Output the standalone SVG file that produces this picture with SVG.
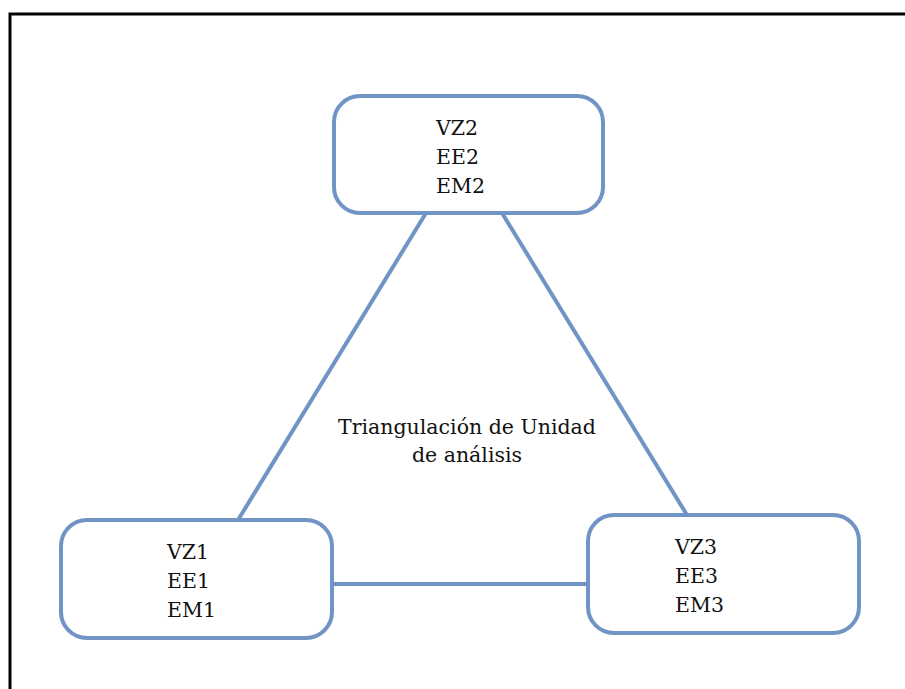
<svg xmlns="http://www.w3.org/2000/svg" width="905" height="689" viewBox="0 0 905 689">
<style>
.box{fill:#fff;stroke:#7094c4;stroke-width:4}
.con{stroke:#7094c4;stroke-width:4;fill:none}
.t{font-family:"DejaVu Serif","Liberation Serif",serif;font-size:20.5px;fill:#111}
</style>
<rect width="905" height="689" fill="#fff"/>
<path d="M10,689 V14 H905" fill="none" stroke="#000" stroke-width="3"/>
<g id="connectors">
<line class="con" x1="426" y1="213" x2="238" y2="520"/>
<line class="con" x1="502" y1="213" x2="687" y2="515"/>
<line class="con" x1="332" y1="584" x2="588" y2="584"/>
</g>
<g id="node-top">
<rect class="box" x="334" y="96" width="269" height="117" rx="26"/>
<text class="t" x="436" y="135">VZ2</text>
<text class="t" x="436" y="164">EE2</text>
<text class="t" x="436" y="193">EM2</text>
</g>
<g id="node-left">
<rect class="box" x="61" y="520" width="271" height="118" rx="26"/>
<text class="t" x="167" y="559">VZ1</text>
<text class="t" x="167" y="588">EE1</text>
<text class="t" x="167" y="617">EM1</text>
</g>
<g id="node-right">
<rect class="box" x="588" y="515" width="271" height="118" rx="26"/>
<text class="t" x="675" y="554">VZ3</text>
<text class="t" x="675" y="583">EE3</text>
<text class="t" x="675" y="612">EM3</text>
</g>
<g id="label">
<text class="t" x="467" y="434" text-anchor="middle">Triangulación de Unidad</text>
<text class="t" x="467" y="462" text-anchor="middle">de análisis</text>
</g>
</svg>
